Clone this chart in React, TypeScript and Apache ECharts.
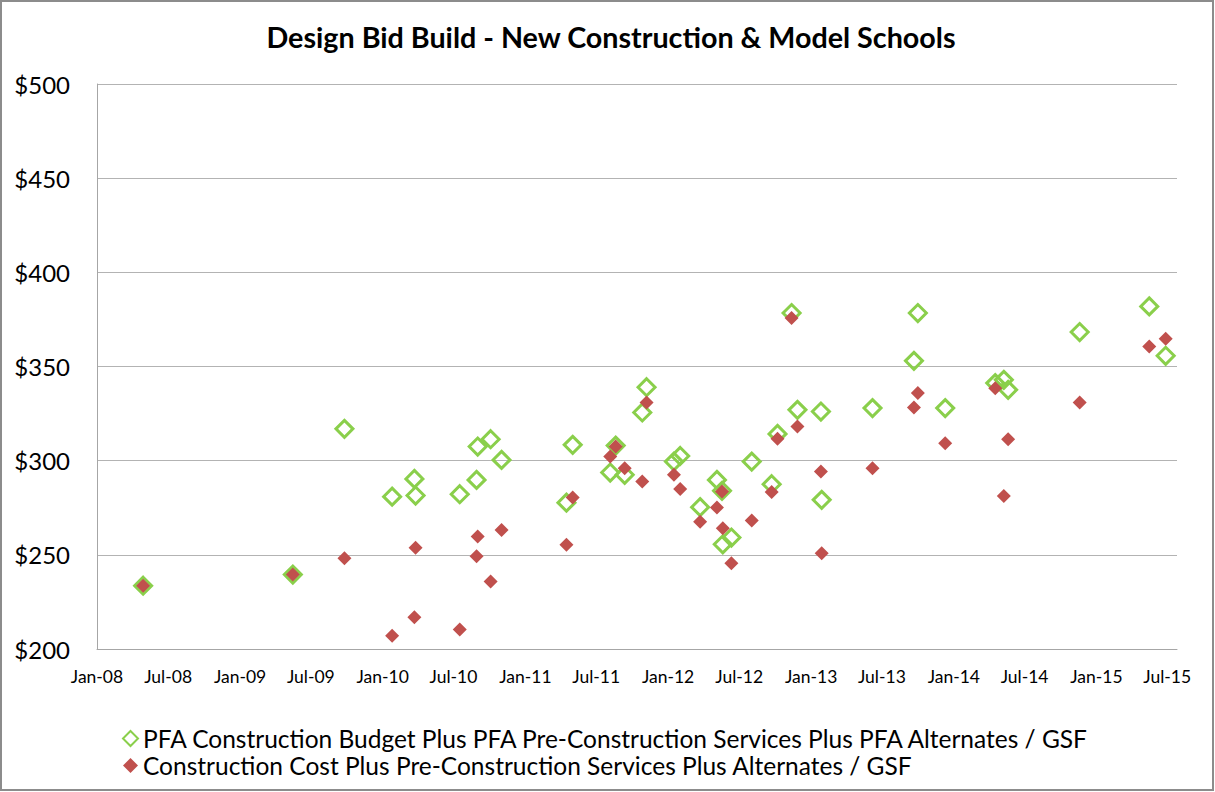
import React, { useEffect, useRef } from "react";
import * as echarts from "echarts";

// Project dates (x) and cost per GSF values (y)
const projectDates = [
  "2008-04-28", "2009-05-16", "2009-09-25", "2010-01-25", "2010-03-23", "2010-03-26",
  "2010-07-17", "2010-08-29", "2010-09-01", "2010-10-04", "2010-11-01", "2011-04-16",
  "2011-05-02", "2011-08-06", "2011-08-20", "2011-09-12", "2011-10-27", "2011-11-07",
  "2012-01-16", "2012-02-01", "2012-03-23", "2012-05-05", "2012-05-18", "2012-05-20",
  "2012-06-11", "2012-08-02", "2012-09-22", "2012-10-07", "2012-11-12", "2012-11-27",
  "2013-01-26", "2013-01-28", "2013-06-07", "2013-09-21", "2013-10-01", "2013-12-10",
  "2014-04-17", "2014-05-09", "2014-05-20", "2014-11-19", "2015-05-16", "2015-06-27",
];

const pfaBudget = [
  233.6, 239.5, 316.9, 280.9, 290.3, 281.5,
  282.2, 289.8, 307.5, 311.4, 300.4, 277.7,
  308.4, 293.7, 308.0, 292.5, 325.6, 339.0,
  299.5, 302.5, 275.3, 289.8, 284.0, 255.6,
  259.2, 299.5, 287.5, 314.2, 378.4, 327.0,
  326.1, 279.2, 327.9, 353.0, 378.4, 327.9,
  341.2, 342.9, 337.6, 368.3, 381.9, 355.7,
];

const constructionCost = [
  233.6, 239.5, 248.2, 207.1, 216.8, 253.7,
  210.3, 249.3, 259.7, 235.8, 263.2, 255.3,
  280.4, 302.2, 307.5, 296.0, 288.9, 330.9,
  292.5, 284.9, 267.6, 275.1, 283.6, 264.1,
  245.5, 268.2, 283.4, 311.6, 375.7, 318.1,
  294.2, 250.8, 296.0, 328.2, 335.9, 309.3,
  338.5, 281.3, 311.4, 330.9, 360.6, 364.7,
];

const seriesNames = [
  "PFA Construction Budget Plus PFA Pre-Construction Services Plus PFA Alternates / GSF",
  "Construction Cost Plus Pre-Construction Services Plus Alternates / GSF",
];

const xTickDates = [
  "2008-01-01", "2008-07-01", "2009-01-01", "2009-07-01", "2010-01-01", "2010-07-01",
  "2011-01-01", "2011-07-01", "2012-01-01", "2012-07-01", "2013-01-01", "2013-07-01",
  "2014-01-01", "2014-07-01", "2015-01-01", "2015-07-01",
];

const X_MIN = "2008-01-01";
const X_MAX = "2015-07-26";
const Y_MIN = 200;
const Y_MAX = 500;
const Y_STEP = 50;

const MONTHS = ["Jan", "Feb", "Mar", "Apr", "May", "Jun", "Jul", "Aug", "Sep", "Oct", "Nov", "Dec"];

function ts(s: string): number {
  const [y, m, d] = s.split("-").map(Number);
  return Date.UTC(y, m - 1, d);
}

const FONT = "Lato, 'Open Sans', sans-serif";

export default function App() {
  const ref = useRef<HTMLDivElement>(null);

  useEffect(() => {
    if (!ref.current) return;
    const chart = echarts.init(ref.current, null, { renderer: "svg" });
    const greenData = projectDates.map((d, i) => [ts(d), pfaBudget[i]]);
    const redData = projectDates.map((d, i) => [ts(d), constructionCost[i]]);

    chart.setOption({
      animation: false,
      backgroundColor: "#ffffff",
      title: {
        text: "Design Bid Build - New Construction & Model Schools",
        left: 606,
        textAlign: "center",
        top: 17,
        textStyle: { fontFamily: FONT, fontSize: 28.7, fontWeight: "bold", color: "#000000" },
      },
      graphic: [
        {
          type: "rect",
          shape: { x: 1, y: 1, width: 1212, height: 789 },
          style: { fill: "none", stroke: "#8c8c8c", lineWidth: 2 },
          silent: true,
        },
      ],
      grid: { left: 97, right: 38, top: 84, bottom: 143, containLabel: false },
      legend: {
        orient: "vertical",
        left: 122,
        top: 725,
        padding: 0,
        itemWidth: 15,
        itemHeight: 15,
        itemGap: 0,
        textStyle: { fontFamily: FONT, fontSize: 24.5, color: "#000000", lineHeight: 27 },
        data: seriesNames,
      },
      xAxis: {
        type: "value",
        min: ts(X_MIN),
        max: ts(X_MAX),
        axisLine: { show: true, lineStyle: { color: "#a6a6a6", width: 1 } },
        axisTick: { show: false },
        splitLine: { show: false },
        axisLabel: {
          customValues: xTickDates.map(ts),
          hideOverlap: false,
          margin: 18,
          fontFamily: FONT,
          fontSize: 17.5,
          color: "#000000",
          formatter: (v: number) => {
            const d = new Date(v);
            return MONTHS[d.getUTCMonth()] + "-" + String(d.getUTCFullYear()).slice(2);
          },
        },
      },
      yAxis: {
        type: "value",
        min: Y_MIN,
        max: Y_MAX,
        interval: Y_STEP,
        axisLine: { show: true, lineStyle: { color: "#a6a6a6", width: 1 } },
        axisTick: { show: false },
        splitLine: { show: true, lineStyle: { color: "#b3b3b3", width: 1 } },
        axisLabel: {
          margin: 27,
          fontFamily: FONT,
          fontSize: 24,
          color: "#000000",
          formatter: (v: number) => "$" + v,
        },
      },
      series: [
        {
          name: seriesNames[0],
          type: "scatter",
          symbol: "diamond",
          symbolSize: 17,
          data: greenData,
          itemStyle: { color: "rgba(255,255,255,0)", borderColor: "#8ACF4B", borderWidth: 3, opacity: 1 },
          z: 2,
        },
        {
          name: seriesNames[1],
          type: "scatter",
          symbol: "diamond",
          symbolSize: 14,
          data: redData,
          itemStyle: { color: "#C0504D", opacity: 1 },
          z: 3,
        },
      ],
    });

    return () => chart.dispose();
  }, []);

  return (
    <div
      ref={ref}
      style={{ position: "absolute", left: 0, top: 0, width: 1215, height: 792 }}
    />
  );
}
